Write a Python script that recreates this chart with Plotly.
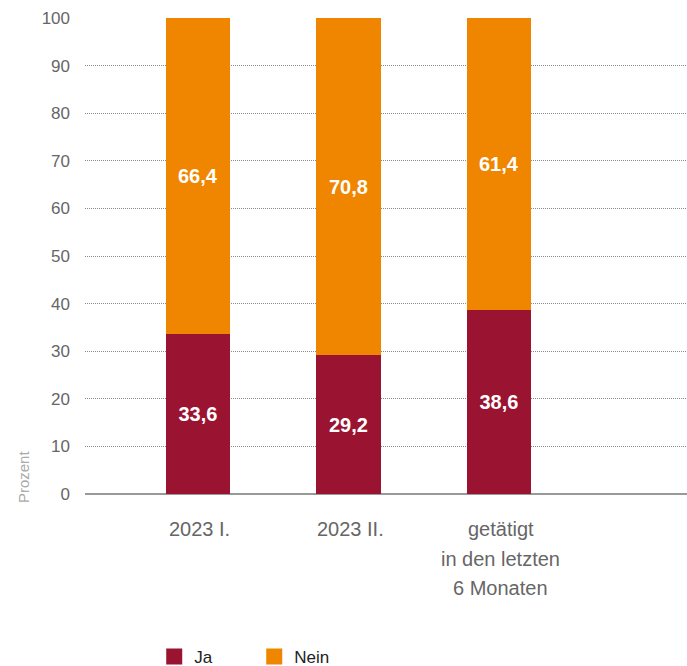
import plotly.graph_objects as go

# Survey shares (percent) per period
categories = ["2023 I.", "2023 II.", "getätigt<br>in den letzten<br>6 Monaten"]
ja_values = [33.6, 29.2, 38.6]
nein_values = [66.4, 70.8, 61.4]
y_ticks = [0, 10, 20, 30, 40, 50, 60, 70, 80, 90, 100]

JA_COLOR = "#9a1330"
NEIN_COLOR = "#f08600"
FONT = "Liberation Sans, Arial, sans-serif"

positions = list(range(len(categories)))

fig = go.Figure()
for name, vals, color in [("Ja", ja_values, JA_COLOR), ("Nein", nein_values, NEIN_COLOR)]:
    fig.add_trace(go.Bar(
        x=positions, y=vals, name=name,
        marker=dict(color=color, line=dict(width=0)),
        width=0.43,
        texttemplate="<b>%{y:.1f}</b>",
        textposition="inside",
        insidetextanchor="middle",
        textangle=0,
        constraintext="none",
        textfont=dict(color="white", size=20, family=FONT),
        showlegend=False,
        hoverinfo="skip",
    ))
    # legend entry with a larger square swatch
    fig.add_trace(go.Scatter(
        x=[None], y=[None], mode="markers", name=name,
        marker=dict(symbol="square", size=17, color=color),
        showlegend=True,
    ))

# Category labels below the axis, one annotation per text line for wider line spacing
annotations = []
LINE_STEP = 29.5
for pos, label in zip(positions, categories):
    for i, line in enumerate(label.split("<br>")):
        annotations.append(dict(
            text=line, showarrow=False,
            xref="x", yref="paper", x=pos, y=0,
            xanchor="center", yanchor="middle",
            xshift=2, yshift=-35 - i * LINE_STEP,
            font=dict(size=20, color="#666666", family=FONT),
        ))

annotations.append(dict(
    text="Prozent", textangle=-90, showarrow=False,
    xref="paper", yref="paper", x=-0.101, y=0.036,
    xanchor="center", yanchor="middle",
    font=dict(size=15, color="#aaaaaa", family=FONT),
))

fig.update_layout(
    barmode="stack",
    separators=", ",
    width=687, height=666,
    margin=dict(l=85, r=0, t=18, b=172),
    plot_bgcolor="white", paper_bgcolor="white",
    font=dict(family=FONT, color="#666666"),
    legend=dict(
        orientation="h", traceorder="normal",
        x=0.115, xanchor="left",
        yref="container", y=0.0135, yanchor="middle",
        font=dict(size=17, color="#222222", family=FONT),
        entrywidth=55, entrywidthmode="pixels",
        itemclick=False, itemdoubleclick=False,
    ),
    annotations=annotations,
)

fig.update_xaxes(
    range=[-0.75, 3.25],
    tickvals=positions, showticklabels=False,
    ticks="", showgrid=False, zeroline=False, showline=False,
)
fig.update_yaxes(
    range=[0, 100], tickvals=y_ticks,
    tickfont=dict(size=17, color="#666666"),
    showgrid=True, gridcolor="#8a8a8a", gridwidth=1, griddash="1px,1px",
    zeroline=True, zerolinecolor="#999999", zerolinewidth=2,
    showline=False, ticks="",
    ticklabelstandoff=14,
)

fig.write_html("out.html")
